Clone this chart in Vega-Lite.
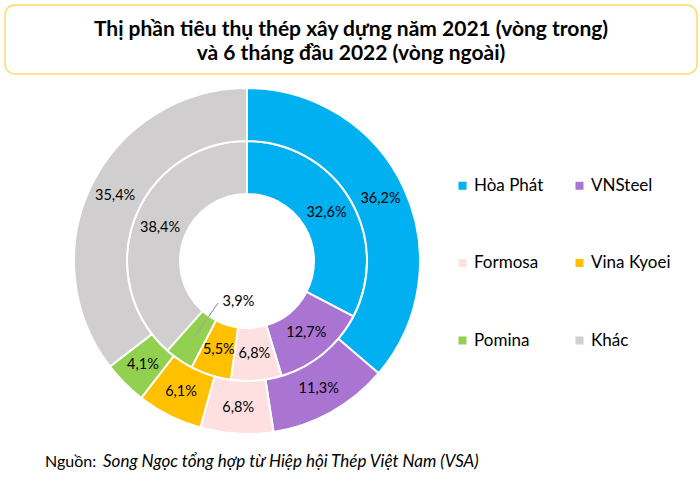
{
  "$schema": "https://vega.github.io/schema/vega-lite/v6.json",
  "padding": {"left": 4, "top": 4, "right": 4, "bottom": 0},
  "background": "white",
  "spacing": 9,
  "config": {
    "font": "Lato",
    "locale": {"number": {"decimal": ",", "thousands": ".", "grouping": [3], "currency": ["", " đ"]}}
  },
  "datasets": {
    "inner": [
      {"company": "Hòa Phát", "order": 1, "share": 0.326},
      {"company": "VNSteel", "order": 2, "share": 0.127},
      {"company": "Formosa", "order": 3, "share": 0.068},
      {"company": "Vina Kyoei", "order": 4, "share": 0.055},
      {"company": "Pomina", "order": 5, "share": 0.039},
      {"company": "Khác", "order": 6, "share": 0.384}
    ],
    "outer": [
      {"company": "Hòa Phát", "order": 1, "share": 0.362},
      {"company": "VNSteel", "order": 2, "share": 0.113},
      {"company": "Formosa", "order": 3, "share": 0.068},
      {"company": "Vina Kyoei", "order": 4, "share": 0.061},
      {"company": "Pomina", "order": 5, "share": 0.041},
      {"company": "Khác", "order": 6, "share": 0.354}
    ],
    "leader": [
      {"company": "Pomina", "pos": 0.5955}
    ]
  },
  "vconcat": [
    {
      "width": 692,
      "height": 69,
      "view": {"stroke": "#FFD966", "strokeWidth": 1.5, "cornerRadius": 10, "fill": "white"},
      "data": {"values": [{"t": 1}]},
      "mark": {
        "type": "text",
        "text": ["Thị phần tiêu thụ thép xây dựng năm 2021 (vòng trong)", "và 6 tháng đầu 2022 (vòng ngoài)"],
        "font": "Lato",
        "fontWeight": "bold",
        "fontSize": 21,
        "lineHeight": 24,
        "baseline": "middle",
        "align": "center",
        "dy": -10,
        "color": "#000000"
      },
      "encoding": {}
    },
    {
      "width": 484,
      "height": 346,
      "view": {"stroke": null},
      "layer": [
        {
          "data": {"name": "inner"},
          "mark": {"type": "arc", "radius": 120, "radius2": 67, "stroke": "white", "strokeWidth": 2},
          "encoding": {
            "theta": {"field": "share", "type": "quantitative", "stack": true},
            "order": {"field": "order", "type": "quantitative"},
            "color": {
              "field": "company",
              "type": "nominal",
              "scale": {
                "domain": ["Hòa Phát", "VNSteel", "Formosa", "Vina Kyoei", "Pomina", "Khác"],
                "range": ["#00B0F0", "#AA74D3", "#FFE0E0", "#FFC000", "#92D050", "#D0CECE"]
              },
              "legend": {
                "title": null,
                "orient": "none",
                "legendX": 449,
                "legendY": 172,
                "direction": "horizontal",
                "columns": 2,
                "columnPadding": 27,
                "rowPadding": 59.5,
                "symbolType": "square",
                "symbolSize": 64,
                "symbolStrokeWidth": 0,
                "symbolOffset": 0,
                "labelFont": "Lato",
                "labelFontSize": 17,
                "labelColor": "#000000",
                "labelOffset": 3,
                "labelLimit": 200
              }
            }
          }
        },
        {
          "data": {"name": "outer"},
          "mark": {"type": "arc", "radius": 173, "radius2": 120, "stroke": "white", "strokeWidth": 2},
          "encoding": {
            "theta": {"field": "share", "type": "quantitative", "stack": true},
            "order": {"field": "order", "type": "quantitative"},
            "color": {"field": "company", "type": "nominal"}
          }
        },
        {
          "data": {"name": "inner"},
          "mark": {"type": "text", "radius": 93, "fontSize": 14.5, "font": "Lato", "color": "#000000", "align": "center", "baseline": "middle"},
          "encoding": {
            "theta": {"field": "share", "type": "quantitative", "stack": true},
            "order": {"field": "order", "type": "quantitative"},
            "text": {"field": "share", "type": "quantitative", "format": ".1%"},
            "opacity": {"condition": {"test": "datum.company === 'Pomina'", "value": 0}, "value": 1}
          }
        },
        {
          "data": {"name": "inner"},
          "mark": {"type": "text", "radius": 50, "fontSize": 14.5, "font": "Lato", "color": "#000000", "align": "left", "baseline": "middle", "dx": 4},
          "encoding": {
            "theta": {"field": "share", "type": "quantitative", "stack": true},
            "order": {"field": "order", "type": "quantitative"},
            "text": {"field": "share", "type": "quantitative", "format": ".1%"},
            "opacity": {"condition": {"test": "datum.company === 'Pomina'", "value": 1}, "value": 0}
          }
        },
        {
          "data": {"name": "outer"},
          "mark": {"type": "text", "radius": 147, "fontSize": 14.5, "font": "Lato", "color": "#000000", "align": "center", "baseline": "middle"},
          "encoding": {
            "theta": {"field": "share", "type": "quantitative", "stack": true},
            "order": {"field": "order", "type": "quantitative"},
            "text": {"field": "share", "type": "quantitative", "format": ".1%"}
          }
        },
        {
          "data": {"name": "leader"},
          "mark": {"type": "arc", "radius": 92, "radius2": 51, "fill": null, "stroke": "#A6A6A6", "strokeWidth": 1},
          "encoding": {
            "theta": {"field": "pos", "type": "quantitative"},
            "theta2": {"field": "pos"}
          }
        }
      ]
    },
    {
      "width": 692,
      "height": 30,
      "view": {"stroke": null},
      "data": {"values": [{"part": "Nguồn:", "style": "normal"}, {"part": "Song Ngọc tổng hợp từ Hiệp hội Thép Việt Nam (VSA)", "style": "italic"}]},
      "layer": [
        {
          "transform": [{"filter": "datum.style === 'normal'"}],
          "mark": {"type": "text", "align": "left", "baseline": "middle", "font": "Lato", "fontSize": 16, "color": "#000000", "x": 40},
          "encoding": {"text": {"field": "part"}}
        },
        {
          "transform": [{"filter": "datum.style === 'italic'"}],
          "mark": {"type": "text", "align": "left", "baseline": "middle", "font": "Lato", "fontSize": 17, "fontStyle": "italic", "color": "#000000", "x": 98},
          "encoding": {"text": {"field": "part"}}
        }
      ]
    }
  ]
}
